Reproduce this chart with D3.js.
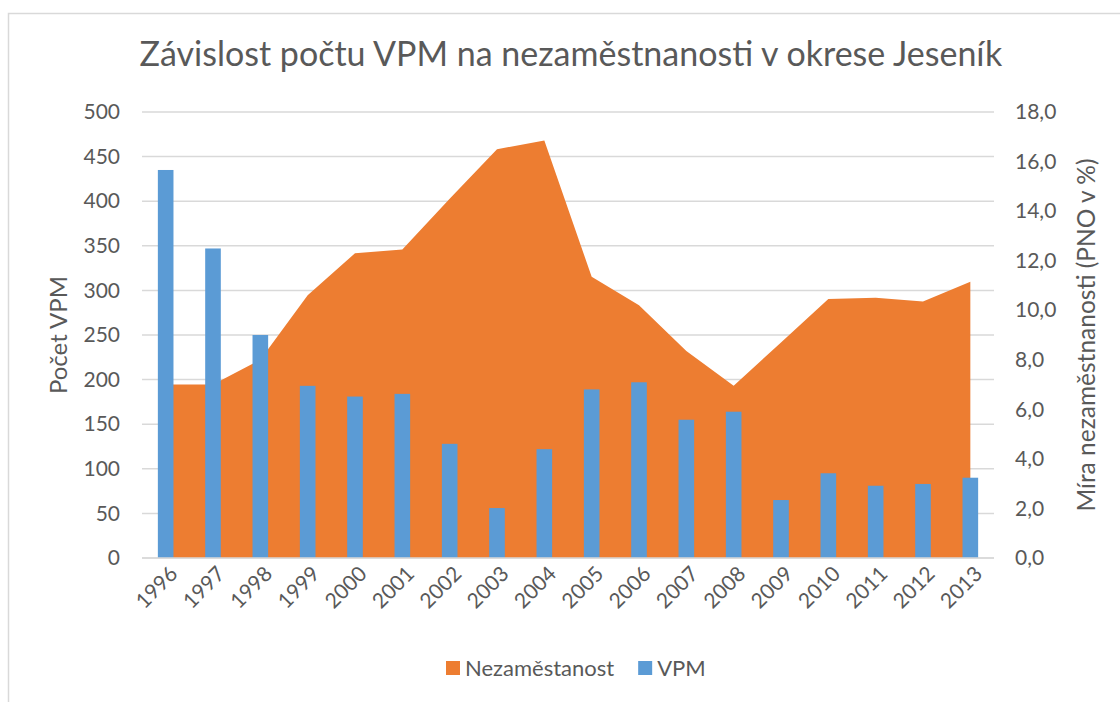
<!DOCTYPE html>
<html>
<head>
<meta charset="utf-8">
<script src="https://cdn.jsdelivr.net/npm/d3@7"></script>
<style>
  body { margin: 0; background: #fff; }
  svg { display: block; font-family: Lato, "Open Sans", sans-serif; }
</style>
</head>
<body>
<div id="chart"></div>
<script>
// data
var years = ["1996","1997","1998","1999","2000","2001","2002","2003","2004",
             "2005","2006","2007","2008","2009","2010","2011","2012","2013"];
var vpm = [435, 347, 250, 193, 181, 184, 128, 56, 122,
           189, 197, 155, 164, 65, 95, 81, 83, 90];
var nezam = [7.0, 7.0, 8.0, 10.6, 12.3, 12.45, 14.5, 16.5, 16.85,
             11.35, 10.2, 8.35, 6.95, 8.7, 10.45, 10.5, 10.35, 11.15];
var leftTicks = [0, 50, 100, 150, 200, 250, 300, 350, 400, 450, 500];
var rightTicks = [0, 2, 4, 6, 8, 10, 12, 14, 16, 18];

var title = "Závislost počtu VPM na nezaměstnanosti v okrese Jeseník";
var orange = "#ED7D31", blue = "#5B9BD5", grid = "#D9D9D9", txt = "#595959";

var width = 1120, height = 702;
var margin = {top: 112, right: 126, bottom: 144, left: 142};

var svg = d3.select("#chart").append("svg")
    .attr("width", width).attr("height", height);

// chart frame (runs off the picture on right and bottom)
svg.append("rect")
    .attr("x", 8.5).attr("y", 13.5)
    .attr("width", width + 20).attr("height", height + 20)
    .attr("fill", "none").attr("stroke", grid).attr("stroke-width", 1.5);

var x = d3.scaleBand().domain(years)
    .range([margin.left, width - margin.right]);
var y = d3.scaleLinear().domain([0, 500])
    .range([height - margin.bottom, margin.top]);
var y2 = d3.scaleLinear().domain([0, 18])
    .range([height - margin.bottom, margin.top]);

function cx(d) { return x(d) + x.bandwidth() / 2; }

// gridlines
svg.append("g")
    .selectAll("line").data(leftTicks).enter().append("line")
    .attr("x1", margin.left).attr("x2", width - margin.right)
    .attr("y1", function(d) { return y(d); })
    .attr("y2", function(d) { return y(d); })
    .attr("stroke", grid).attr("stroke-width", 1.5);

// unemployment area
var area = d3.area()
    .x(function(d, i) { return cx(years[i]); })
    .y0(y2(0))
    .y1(function(d) { return y2(d); });
svg.append("path")
    .datum(nezam)
    .attr("fill", orange)
    .attr("d", area);

// VPM bars
var bw = x.bandwidth() * 0.33;
svg.append("g")
    .selectAll("rect").data(vpm).enter().append("rect")
    .attr("x", function(d, i) { return cx(years[i]) - bw / 2; })
    .attr("y", function(d) { return y(d); })
    .attr("width", bw)
    .attr("height", function(d) { return y(0) - y(d); })
    .attr("fill", blue);

// left axis
var ax = svg.append("g")
    .attr("transform", "translate(" + (margin.left - 22) + ",0)")
    .call(d3.axisLeft(y).tickValues(leftTicks).tickSize(0).tickPadding(0));
ax.select(".domain").remove();
ax.selectAll("text").attr("fill", txt).style("font-size", "21px")
    .attr("font-family", "Lato, sans-serif");

// right axis
var ax2 = svg.append("g")
    .attr("transform", "translate(" + (width - margin.right + 21) + ",0)")
    .call(d3.axisRight(y2).tickValues(rightTicks).tickSize(0).tickPadding(0)
        .tickFormat(function(d) { return d3.format(".1f")(d).replace(".", ","); }));
ax2.select(".domain").remove();
ax2.selectAll("text").attr("fill", txt).style("font-size", "21px")
    .attr("font-family", "Lato, sans-serif");

// year labels, rotated
var ax3 = svg.append("g")
    .attr("transform", "translate(0," + (y(0) + 12) + ")")
    .call(d3.axisBottom(x).tickSize(0).tickPadding(0));
ax3.select(".domain").remove();
ax3.selectAll("text")
    .attr("fill", txt).style("font-size", "21px")
    .attr("font-family", "Lato, sans-serif")
    .attr("text-anchor", "end")
    .attr("dy", "0.35em")
    .attr("transform", "translate(8,0) rotate(-45)");

// baseline
svg.append("line")
    .attr("x1", margin.left).attr("x2", width - margin.right)
    .attr("y1", y(0)).attr("y2", y(0))
    .attr("stroke", grid).attr("stroke-width", 1.5);

// axis titles
var midY = (y(0) + y(500)) / 2;
svg.append("text")
    .attr("transform", "translate(67," + midY + ") rotate(-90)")
    .attr("text-anchor", "middle")
    .attr("fill", txt).style("font-size", "24px")
    .text("Počet VPM");
svg.append("text")
    .attr("transform", "translate(1095," + midY + ") rotate(-90)")
    .attr("text-anchor", "middle")
    .attr("fill", txt).style("font-size", "24.5px")
    .text("Míra nezaměstnanosti (PNO v %)");

// title
svg.append("text")
    .attr("x", (x.range()[0] + x.range()[1]) / 2 + 3).attr("y", 66)
    .attr("text-anchor", "middle")
    .attr("fill", txt).style("font-size", "34px")
    .text(title);

// legend
var legend = svg.append("g").attr("transform", "translate(446,661)");
var items = [{name: "Nezaměstanost", color: orange}, {name: "VPM", color: blue}];
var lx = 0;
items.forEach(function(it) {
    var g = legend.append("g").attr("transform", "translate(" + lx + ",0)");
    g.append("rect").attr("width", 14).attr("height", 14).attr("fill", it.color);
    var t = g.append("text").attr("x", 19).attr("y", 14.5)
        .attr("fill", txt).style("font-size", "22px").text(it.name);
    lx += 19 + t.node().getComputedTextLength() + 24;
});
</script>
</body>
</html>
